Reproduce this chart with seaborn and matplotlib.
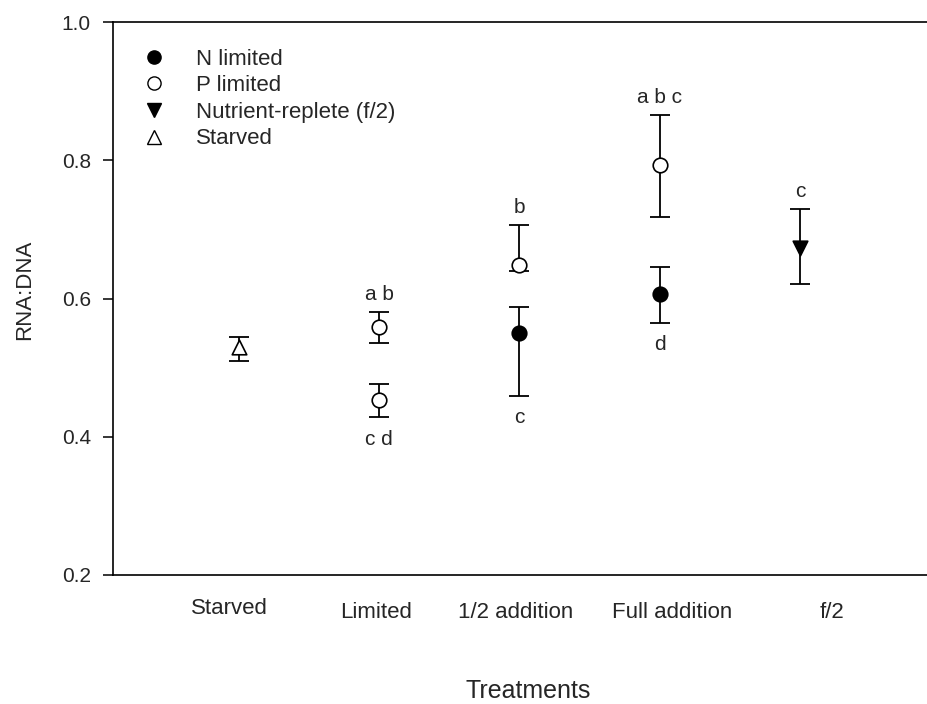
import pandas as pd
import seaborn as sns
import matplotlib.pyplot as plt
from matplotlib.lines import Line2D

treatments = ["Starved", "Limited", "1/2 addition", "Full addition", "f/2"]

point_treatment = ["Starved", "Limited", "Limited", "1/2 addition", "1/2 addition",
                   "Full addition", "Full addition", "f/2"]
point_series = ["Starved", "P limited", "P limited", "P limited", "N limited",
                "P limited", "N limited", "Nutrient-replete (f/2)"]
ratio = [0.530, 0.559, 0.453, 0.648, 0.550, 0.793, 0.607, 0.673]
err_low = [0.510, 0.536, 0.428, 0.640, 0.459, 0.718, 0.565, 0.621]
err_high = [0.544, 0.580, 0.476, 0.706, 0.588, 0.865, 0.646, 0.729]
letters = ["", "a b", "c d", "b", "c", "a b c", "d", "c"]
letter_side = ["", "above", "below", "above", "below", "above", "below", "above"]

legend_order = ["N limited", "P limited", "Nutrient-replete (f/2)", "Starved"]
markers = {"N limited": "o", "P limited": "o", "Nutrient-replete (f/2)": "v", "Starved": "^"}
faces = {"N limited": "black", "P limited": "white", "Nutrient-replete (f/2)": "black", "Starved": "white"}

df = pd.DataFrame({
    "treatment": point_treatment,
    "series": point_series,
    "ratio": ratio,
    "low": err_low,
    "high": err_high,
    "letter": letters,
    "side": letter_side,
})
df["x"] = [treatments.index(t) + 1 for t in df["treatment"]]

sns.set_style("ticks")
plt.rcParams["font.family"] = ["Liberation Sans", "DejaVu Sans"]

fig = plt.figure(figsize=(9.28, 7.04), dpi=100)
ax = fig.add_axes([113 / 928, 1 - 575 / 704, 1 - 113 / 928, (575 - 22) / 704])

# error bars first, markers on top
ax.errorbar(df["x"], df["ratio"],
            yerr=[df["ratio"] - df["low"], df["high"] - df["ratio"]],
            fmt="none", ecolor="black", elinewidth=1.3, capsize=7, capthick=1.3, zorder=2)

for s in legend_order:
    sub = df[df["series"] == s]
    sns.scatterplot(data=sub, x="x", y="ratio", marker=markers[s], color=faces[s],
                    edgecolor="black", linewidth=1.2, s=110, ax=ax, zorder=3, legend=False)

for _, r in df.iterrows():
    if not r["letter"]:
        continue
    if r["side"] == "above":
        ax.annotate(r["letter"], (r["x"], r["high"]), xytext=(0, 6), textcoords="offset points",
                    ha="center", va="bottom", fontsize=15)
    else:
        ax.annotate(r["letter"], (r["x"], r["low"]), xytext=(0, -9), textcoords="offset points",
                    ha="center", va="top", fontsize=15)

handles = [Line2D([], [], linestyle="none", marker=markers[s], markerfacecolor=faces[s],
                  markeredgecolor="black", markersize=9.5) for s in legend_order]
ax.legend(handles, legend_order, loc="upper left", bbox_to_anchor=(0.005, 0.988), frameon=False,
          fontsize=16, handletextpad=1.14, labelspacing=0.25, handlelength=1.5)

ax.set_xlim(1 - 126 / 140.25, 1 + 689 / 140.25)
ax.set_ylim(0.2, 1.0)
ax.set_yticks([0.2, 0.4, 0.6, 0.8, 1.0])
ax.set_yticklabels(["0.2", "0.4", "0.6", "0.8", "1.0"], fontsize=15)
ax.set_xticks([0.93, 1.98, 2.975, 4.09, 5.23])
ax.set_xticklabels(treatments, fontsize=16)
ax.tick_params(axis="x", length=0, pad=19.5)
ax.tick_params(axis="y", direction="out", length=7, width=1.1, color="black", pad=9)
# the "Starved" label sits a little higher in the original
ax.xaxis.get_major_ticks()[0].set_pad(16.5)

ax.set_ylabel("RNA:DNA", fontsize=16, va="center")
ax.yaxis.set_label_coords(-0.108, 0.515)
ax.set_xlabel("Treatments", fontsize=18, va="center")
ax.xaxis.set_label_coords(0.51, -0.21)

for side in ["left", "bottom", "top"]:
    ax.spines[side].set_linewidth(1.2)
    ax.spines[side].set_color("black")
ax.spines["right"].set_visible(False)

fig.savefig("out.png", dpi=100)
